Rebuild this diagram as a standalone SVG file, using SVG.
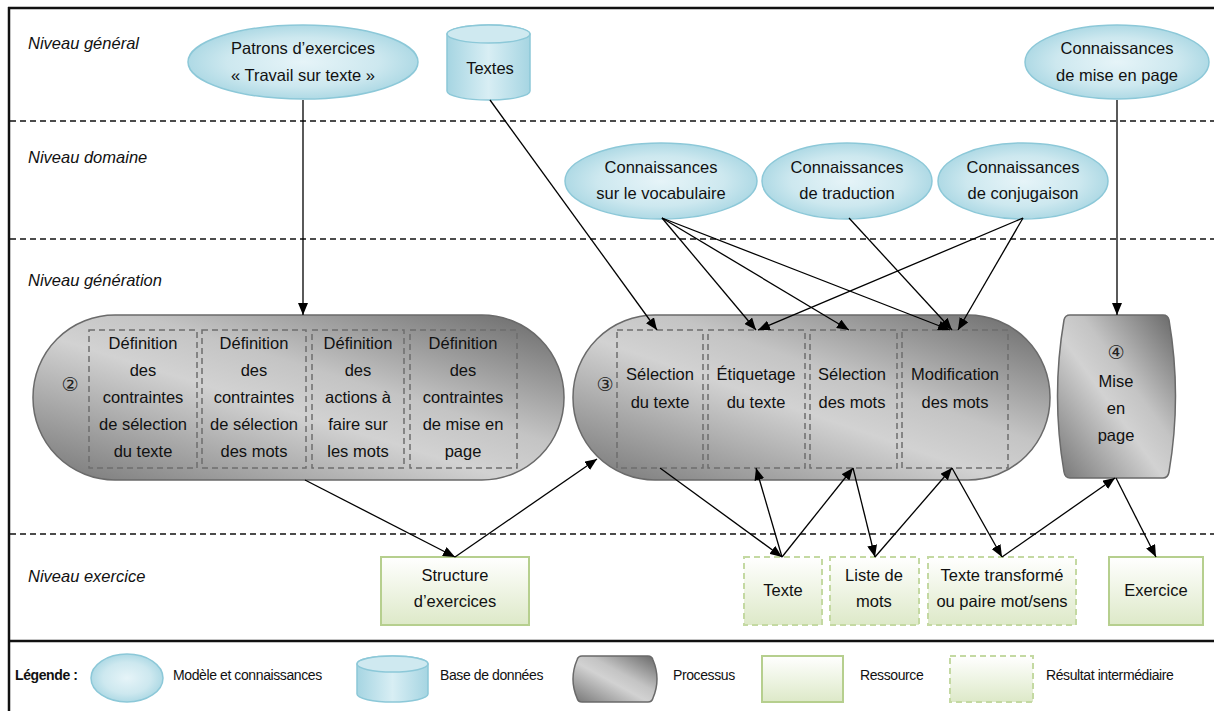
<svg xmlns="http://www.w3.org/2000/svg" width="1214" height="711" viewBox="0 0 1214 711">
<defs>
<radialGradient id="gBlue" cx="0.5" cy="0.5" r="0.6">
<stop offset="0" stop-color="#e6f4f8"/><stop offset="0.55" stop-color="#cde8ef"/><stop offset="1" stop-color="#9dd1df"/>
</radialGradient>
<linearGradient id="gCyl" x1="0" y1="0" x2="1" y2="0">
<stop offset="0" stop-color="#a6d5e2"/><stop offset="0.5" stop-color="#d8eef4"/><stop offset="1" stop-color="#a6d5e2"/>
</linearGradient>
<linearGradient id="gGray" x1="0" y1="1" x2="1" y2="0">
<stop offset="0" stop-color="#757575"/><stop offset="0.45" stop-color="#d2d2d2"/><stop offset="0.6" stop-color="#c4c4c4"/><stop offset="1" stop-color="#666666"/>
</linearGradient>
<linearGradient id="gGreen" x1="0" y1="0" x2="0" y2="1">
<stop offset="0" stop-color="#ffffff"/><stop offset="1" stop-color="#dde9c8"/>
</linearGradient>
<marker id="arr" markerUnits="userSpaceOnUse" markerWidth="12" markerHeight="10" refX="12" refY="5" orient="auto">
<path d="M0,0 L12,5 L0,10 z" fill="#000"/>
</marker>
<style>
.lane{font-family:"Liberation Sans",Arial,sans-serif;font-style:italic;font-size:16.5px;fill:#111}
.t{font-family:"Liberation Sans",Arial,sans-serif;font-size:16.5px;fill:#111;text-anchor:middle}
.c{font-family:"DejaVu Sans",sans-serif;font-size:19px;fill:#222;text-anchor:middle}
.lg{font-family:"Liberation Sans",Arial,sans-serif;font-size:14px;fill:#111;letter-spacing:-0.4px}
.know{fill:url(#gBlue);stroke:#8cc8d8;stroke-width:1.5}
.cyl{fill:url(#gCyl);stroke:#8cc8d8;stroke-width:1.5}
.cyltop{fill:#cfe9f0;stroke:#8cc8d8;stroke-width:1.5}
.proc{fill:url(#gGray);stroke:#6a6a6a;stroke-width:1.5}
.inner{fill:none;stroke:#6e6e6e;stroke-width:1.5;stroke-dasharray:6,4}
.res{fill:url(#gGreen);stroke:#b6cf8e;stroke-width:2}
.resd{fill:url(#gGreen);stroke:#c4d9a2;stroke-width:2;stroke-dasharray:6,4}
.sep{stroke:#111;stroke-width:1.3;stroke-dasharray:6,4}
.frame{stroke:#111;stroke-width:2.5;fill:none}
.cn line{stroke:#000;stroke-width:1.3;marker-end:url(#arr)}
</style>
</defs>
<rect width="1214" height="711" fill="#fff"/>
<g id="frame">
<line class="frame" x1="8" y1="8" x2="1214" y2="8"/>
<line class="frame" x1="9" y1="7" x2="9" y2="711"/>
<line class="frame" x1="8" y1="641" x2="1214" y2="641"/>
<line class="sep" x1="10" y1="121" x2="1214" y2="121"/>
<line class="sep" x1="10" y1="239" x2="1214" y2="239"/>
<line class="sep" x1="10" y1="534" x2="1214" y2="534"/>
<text class="lane" x="28" y="49">Niveau général</text>
<text class="lane" x="28" y="163">Niveau domaine</text>
<text class="lane" x="28" y="286">Niveau génération</text>
<text class="lane" x="28" y="582">Niveau exercice</text>
</g>
<g id="patrons">
<ellipse class="know" cx="303" cy="62" rx="115" ry="37"/>
<text class="t" x="303" y="54">Patrons d’exercices</text>
<text class="t" x="303" y="81">« Travail sur texte »</text>
</g>
<g id="textes">
<path class="cyl" d="M447,34 A41.5,9 0 0,1 530,34 V91 A41.5,9 0 0,1 447,91 Z"/>
<ellipse class="cyltop" cx="488.5" cy="34" rx="41.5" ry="9"/>
<text class="t" x="490" y="74">Textes</text>
</g>
<g id="k-miseenpage">
<ellipse class="know" cx="1117" cy="62" rx="92" ry="37"/>
<text class="t" x="1117" y="54">Connaissances</text>
<text class="t" x="1117" y="81">de mise en page</text>
</g>
<g id="k-vocab">
<ellipse class="know" cx="661" cy="181" rx="96" ry="38"/>
<text class="t" x="661" y="173">Connaissances</text>
<text class="t" x="661" y="199">sur le vocabulaire</text>
</g>
<g id="k-trad">
<ellipse class="know" cx="847" cy="181" rx="85" ry="38"/>
<text class="t" x="847" y="173">Connaissances</text>
<text class="t" x="847" y="199">de traduction</text>
</g>
<g id="k-conj">
<ellipse class="know" cx="1023" cy="181" rx="85" ry="38"/>
<text class="t" x="1023" y="173">Connaissances</text>
<text class="t" x="1023" y="199">de conjugaison</text>
</g>
<g id="proc2">
<rect class="proc" x="33" y="315" width="531" height="165" rx="82" ry="82"/>
<text class="c" x="70" y="391">②</text>
<rect class="inner" x="89" y="330" width="108" height="138"/>
<rect class="inner" x="202" y="330" width="104" height="138"/>
<rect class="inner" x="312" y="330" width="92" height="138"/>
<rect class="inner" x="410" y="330" width="107" height="138"/>
<text class="t" x="143" y="349">Définition</text><text class="t" x="143" y="376">des</text><text class="t" x="143" y="403">contraintes</text><text class="t" x="143" y="430">de sélection</text><text class="t" x="143" y="457">du texte</text>
<text class="t" x="254" y="349">Définition</text><text class="t" x="254" y="376">des</text><text class="t" x="254" y="403">contraintes</text><text class="t" x="254" y="430">de sélection</text><text class="t" x="254" y="457">des mots</text>
<text class="t" x="358" y="349">Définition</text><text class="t" x="358" y="376">des</text><text class="t" x="358" y="403">actions à</text><text class="t" x="358" y="430">faire sur</text><text class="t" x="358" y="457">les mots</text>
<text class="t" x="463" y="349">Définition</text><text class="t" x="463" y="376">des</text><text class="t" x="463" y="403">contraintes</text><text class="t" x="463" y="430">de mise en</text><text class="t" x="463" y="457">page</text>
</g>
<g id="proc3">
<rect class="proc" x="573" y="315" width="477" height="165" rx="82" ry="82"/>
<text class="c" x="605" y="391">③</text>
<rect class="inner" x="617" y="330" width="86" height="138"/>
<rect class="inner" x="708" y="330" width="97" height="138"/>
<rect class="inner" x="810" y="330" width="87" height="138"/>
<rect class="inner" x="902" y="330" width="106" height="138"/>
<text class="t" x="660" y="380">Sélection</text><text class="t" x="660" y="408">du texte</text>
<text class="t" x="756" y="380">Étiquetage</text><text class="t" x="756" y="408">du texte</text>
<text class="t" x="852" y="380">Sélection</text><text class="t" x="852" y="408">des mots</text>
<text class="t" x="955" y="380">Modification</text><text class="t" x="955" y="408">des mots</text>
</g>
<g id="proc4">
<path class="proc" d="M1070,315 H1163 Q1168,315 1169,320 Q1182,396 1169,472 Q1168,478 1163,478 H1070 Q1065,478 1064,472 Q1051,396 1064,320 Q1065,315 1070,315 Z"/>
<text class="c" x="1116" y="359">④</text>
<text class="t" x="1116" y="387">Mise</text>
<text class="t" x="1116" y="414">en</text>
<text class="t" x="1116" y="441">page</text>
</g>
<g id="structure">
<rect class="res" x="381" y="557" width="148" height="68"/>
<text class="t" x="455" y="581">Structure</text>
<text class="t" x="455" y="607">d’exercices</text>
</g>
<g id="texte">
<rect class="resd" x="744" y="557" width="78" height="68"/>
<text class="t" x="783" y="596">Texte</text>
</g>
<g id="liste">
<rect class="resd" x="830" y="557" width="89" height="68"/>
<text class="t" x="874" y="581">Liste de</text>
<text class="t" x="874" y="607">mots</text>
</g>
<g id="transforme">
<rect class="resd" x="928" y="557" width="148" height="68"/>
<text class="t" x="1002" y="581">Texte transformé</text>
<text class="t" x="1002" y="607">ou paire mot/sens</text>
</g>
<g id="exercice">
<rect class="res" x="1109" y="557" width="94" height="68"/>
<text class="t" x="1156" y="596">Exercice</text>
</g>
<g id="connectors" class="cn">
<line x1="303" y1="100" x2="303" y2="315"/>
<line x1="490" y1="100" x2="657" y2="330"/>
<line x1="662" y1="218" x2="756" y2="330"/>
<line x1="662" y1="218" x2="849" y2="330"/>
<line x1="662" y1="218" x2="950" y2="330"/>
<line x1="849" y1="218" x2="952" y2="330"/>
<line x1="1023" y1="218" x2="758" y2="330"/>
<line x1="1023" y1="218" x2="958" y2="330"/>
<line x1="1117" y1="100" x2="1117" y2="315"/>
<line x1="305" y1="480" x2="455" y2="557"/>
<line x1="455" y1="557" x2="597" y2="459"/>
<line x1="660" y1="468" x2="782" y2="557"/>
<line x1="782" y1="557" x2="756" y2="468"/>
<line x1="782" y1="557" x2="853" y2="468"/>
<line x1="853" y1="468" x2="875" y2="557"/>
<line x1="875" y1="557" x2="952" y2="468"/>
<line x1="952" y1="468" x2="1002" y2="557"/>
<line x1="1002" y1="557" x2="1115" y2="478"/>
<line x1="1116" y1="478" x2="1156" y2="557"/>
</g>
<g id="legend">
<text x="15" y="680" style="font-family:'Liberation Sans',Arial,sans-serif;font-weight:bold;font-size:14px;fill:#111;letter-spacing:-0.4px">Légende :</text>
<ellipse class="know" cx="127" cy="678" rx="36" ry="24"/>
<text class="lg" x="173" y="680">Modèle et connaissances</text>
<path class="cyl" d="M357,664 A35.5,8 0 0,1 428,664 V694 A35.5,8 0 0,1 357,694 Z"/>
<ellipse class="cyltop" cx="392.5" cy="664" rx="35.5" ry="8"/>
<text class="lg" x="440" y="680">Base de données</text>
<path class="proc" d="M582,656 H648 Q652,656 653,660 Q661,679 653,698 Q652,702 648,702 H582 Q578,702 577,698 Q569,679 577,660 Q578,656 582,656 Z"/>
<text class="lg" x="673" y="680">Processus</text>
<rect class="res" x="762" y="656" width="81" height="46"/>
<text class="lg" x="860" y="680">Ressource</text>
<rect class="resd" x="950" y="656" width="83" height="46"/>
<text class="lg" x="1046" y="680">Résultat intermédiaire</text>
</g>
</svg>
